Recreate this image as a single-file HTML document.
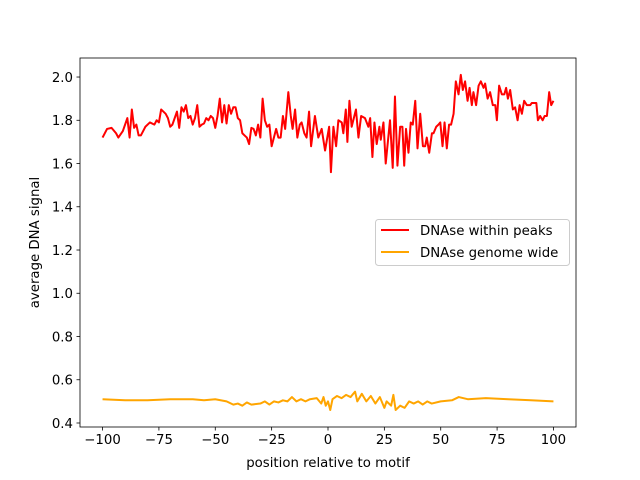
<!DOCTYPE html>
<html><head><meta charset="utf-8"><style>
body{margin:0;background:#fff}
svg{display:block;font-family:"DejaVu Sans","Liberation Sans",sans-serif}
</style></head><body>
<svg id="chart" width="640" height="480" xmlns="http://www.w3.org/2000/svg"></svg>
<script>
const xTicks=[-100,-75,-50,-25,0,25,50,75,100];
const xTickLabels=["\u2212100","\u221275","\u221250","\u221225","0","25","50","75","100"];
const yTicks=[0.4,0.6,0.8,1.0,1.2,1.4,1.6,1.8,2.0];
const yTickLabels=["0.4","0.6","0.8","1.0","1.2","1.4","1.6","1.8","2.0"];
const peaksX=[-100,-98,-96,-94,-93,-91,-89,-88,-87,-86,-85,-84,-83,-81,-79,-77,-76,-75,-74,-72,-71,-70,-69,-67,-66,-65,-64,-63,-62,-61,-60,-59,-58,-57,-56,-55,-54,-53,-52,-51,-50,-49,-48,-47,-46,-45,-44,-43,-42,-41,-40,-39,-38,-37,-36,-35,-34,-33,-32,
-31,-30,-29,-28,-27,-26,-25,-24,-23,-22,-21,-20,-19,-17.6,-16.5,-15.7,-14.6,-13.6,-12.5,-11.7,-10.5,-9.5,-8.4,-7.5,-5.8,-4.3,-2.8,-1.3,0.5,1.3,2.4,3.6,4.6,6.1,6.8,7.9,8.6,9.5,10.5,12.4,13.5,14.7,16.4,17.9,18.7,19.7,20.6,21.6,22.8,23.4,24.6,25.6,27.5,28.7,29.7,30.8,32,33,33.8,34.6,35.7,
36.7,37.6,38.7,39.7,40.9,42.1,43.1,43.8,44.9,46.1,46.8,48,49,49.8,50.8,51.7,52.7,53.7,54.6,55.7,56.7,57.9,58.9,59.8,60.8,61.9,62.8,63.8,64.5,65.7,66.8,67.8,69,69.7,70.8,71.9,73.1,74.2,74.9,75.9,77.1,78.2,79,79.8,80.8,82,83,84.1,85,86,87,88.2,89.7,90.4,91.5,92.4,93.1,94.1,95.2,96.1,97.1,98.1,99,100];
const peaksY=[1.72,1.76,1.765,1.74,1.72,1.75,1.81,1.72,1.85,1.765,1.78,1.73,1.73,1.77,1.79,1.78,1.80,1.79,1.85,1.83,1.81,1.77,1.78,1.84,1.765,1.86,1.84,1.87,1.81,1.82,1.78,1.81,1.87,1.77,1.78,1.785,1.81,1.80,1.82,1.81,1.765,1.82,1.90,1.79,1.87,1.785,1.87,1.83,1.86,1.86,1.81,1.80,1.74,1.73,1.72,1.69,1.765,1.76,1.73,
1.78,1.72,1.90,1.80,1.77,1.78,1.68,1.72,1.76,1.72,1.72,1.82,1.76,1.93,1.82,1.76,1.85,1.72,1.78,1.79,1.74,1.72,1.84,1.68,1.82,1.72,1.76,1.66,1.77,1.56,1.77,1.68,1.80,1.79,1.74,1.85,1.70,1.89,1.77,1.85,1.72,1.82,1.81,1.77,1.81,1.63,1.79,1.69,1.77,1.71,1.79,1.60,1.80,1.58,1.91,1.59,1.77,1.77,1.59,1.76,1.65,
1.79,1.78,1.89,1.67,1.83,1.68,1.68,1.72,1.65,1.74,1.74,1.77,1.78,1.79,1.68,1.79,1.67,1.78,1.78,1.83,1.98,1.92,2.01,1.94,1.98,1.89,1.95,1.87,1.93,1.87,1.96,1.98,1.95,1.97,1.90,1.93,1.87,1.87,1.80,1.96,1.92,1.92,1.95,1.90,1.94,1.85,1.86,1.80,1.87,1.83,1.89,1.87,1.87,1.88,1.88,1.88,1.80,1.82,1.80,1.82,1.82,1.93,1.87,1.89];
const wideX=[-100,-90,-80,-70,-60,-55,-50,-45,-42,-40,-38,-36,-34,-30,-28,-26,-24,-22,-20,-18,-16,-14,-12,-10,-8,-5,-3,-2,-1,0,1,2,4,6,8,10,12,13,15,17,19,21,23,25,26,28,29,30,32,34,36,38,40,42,44,46,50,55,58,62,70,80,90,100];
const wideY=[0.51,0.505,0.505,0.51,0.51,0.505,0.51,0.50,0.485,0.49,0.48,0.495,0.485,0.49,0.50,0.485,0.50,0.495,0.505,0.50,0.52,0.50,0.51,0.50,0.51,0.515,0.49,0.52,0.48,0.50,0.46,0.51,0.525,0.515,0.53,0.52,0.545,0.50,0.535,0.50,0.525,0.49,0.52,0.47,0.50,0.48,0.53,0.46,0.48,0.47,0.50,0.49,0.50,0.485,0.50,0.49,0.50,0.505,0.52,0.51,0.515,0.51,0.505,0.50];

const L=80,R=576,T=58,B=427;
const xMin=-110,xMax=110,yMin=0.3815,yMax=2.088;
const sx=v=>L+(v-xMin)/(xMax-xMin)*(R-L);
const sy=v=>B-(v-yMin)/(yMax-yMin)*(B-T);
const svg=document.getElementById('chart');
const NS='http://www.w3.org/2000/svg';
function mk(tag,attrs,parent){const e=document.createElementNS(NS,tag);for(const k in attrs)e.setAttribute(k,attrs[k]);(parent||svg).appendChild(e);return e;}

function line(xs,ys,color,name){
  const p=mk('polyline',{points:xs.map((x,i)=>sx(x).toFixed(2)+','+sy(ys[i]).toFixed(2)).join(' '),fill:'none',stroke:color,'stroke-width':2,'stroke-linejoin':'round'});
  
  
}
line(peaksX,peaksY,'#ff0000','series-dnase-within-peaks');
line(wideX,wideY,'#ffa500','series-dnase-genome-wide');

const frame=mk('rect',{x:L,y:T,width:R-L,height:B-T,fill:'none',stroke:'#000','stroke-width':0.8});



xTicks.forEach((v,i)=>{
  const x=sx(v);
  mk('line',{x1:x,x2:x,y1:B,y2:B+3.5,stroke:'#000','stroke-width':0.8});
  const t=mk('text',{x:x,y:B+17,'text-anchor':'middle','font-size':'13.3px'});
  t.textContent=xTickLabels[i];
  
  
});
yTicks.forEach((v,i)=>{
  const y=sy(v);
  mk('line',{x1:L-3.5,x2:L,y1:y,y2:y,stroke:'#000','stroke-width':0.8});
  const t=mk('text',{x:L-7,y:y+4.8,'text-anchor':'end','font-size':'13.3px'});
  t.textContent=yTickLabels[i];
  
  
});
const xt=mk('text',{x:(L+R)/2,y:467,'text-anchor':'middle','font-size':'13.3px'});
xt.textContent='position relative to motif';


const yt=mk('text',{x:0,y:0,'text-anchor':'middle','font-size':'13.3px',transform:'translate(39,'+((T+B)/2)+') rotate(-90)'});
yt.textContent='average DNA signal';



const lg=mk('g',{});


mk('rect',{x:375.5,y:219.5,width:194,height:46,rx:3,fill:'#fff','fill-opacity':0.8,stroke:'#ccc','stroke-width':1},lg);
[['DNAse within peaks','#ff0000',230],['DNAse genome wide','#ffa500',252]].forEach(([lab,c,y])=>{
  const g=mk('g',{},lg);
  
  
  mk('line',{x1:381,x2:409,y1:y,y2:y,stroke:c,'stroke-width':2},g);
  const t=mk('text',{x:420,y:y+4.8,'font-size':'13.3px'},g);
  t.textContent=lab;
});
</script>
</body></html>
